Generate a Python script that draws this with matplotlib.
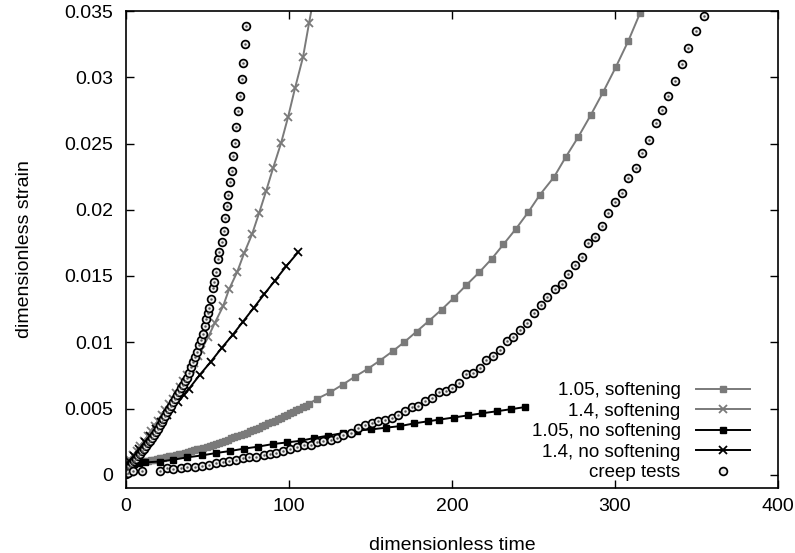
import matplotlib
matplotlib.use("Agg")
import matplotlib.pyplot as plt

# ---------------------------------------------------------------
# data (dimensionless time, dimensionless strain)

# 1.05, softening
soft105_t = [0, 1.9, 3.8, 5.7, 7.6, 9.5, 11.4, 13.3, 15.2, 17.1, 19.0, 20.9, 22.8, 24.7, 26.6, 28.5,
             30.4, 32.3, 34.2, 36.1, 38.0, 39.9, 41.8, 43.7, 45.6, 47.5, 49.4, 51.3, 53.2, 55.1, 57.0,
             58.9, 60.8, 62.7, 64.6, 66.5, 68.4, 70.3, 72.2, 74.1, 76.0, 77.9, 79.8, 81.7, 83.6, 85.5,
             87.4, 89.3, 91.2, 93.1, 95.0, 96.9, 98.8, 100.7, 102.6, 104.5, 106.4, 108.3, 110.2, 112.1,
             117.0, 125.2, 132.9, 140.5, 148.3, 155.8, 163.6, 170.6, 178.3, 186.1, 193.7, 201.2, 208.6,
             216.8, 224.4, 231.5, 239.3, 246.8, 254.0, 262.6, 269.8, 277.5, 285.1, 292.8, 300.4, 308.2, 315.3]
soft105_e = [0.00080, 0.00083, 0.00086, 0.00090, 0.00093, 0.00097, 0.00101, 0.00105, 0.00109, 0.00114,
             0.00118, 0.00123, 0.00128, 0.00133, 0.00138, 0.00143, 0.00149, 0.00154, 0.00160, 0.00166,
             0.00172, 0.00178, 0.00185, 0.00191, 0.00198, 0.00205, 0.00212, 0.00219, 0.00227, 0.00234,
             0.00242, 0.00250, 0.00258, 0.00266, 0.00274, 0.00283, 0.00291, 0.00300, 0.00309, 0.00318,
             0.00328, 0.00337, 0.00347, 0.00356, 0.00366, 0.00376, 0.00387, 0.00397, 0.00408, 0.00418,
             0.00429, 0.00440, 0.00451, 0.00463, 0.00474, 0.00486, 0.00498, 0.00510, 0.00522, 0.00534,
             0.00572, 0.00622, 0.00680, 0.00741, 0.00799, 0.00862, 0.00932, 0.01000, 0.01081, 0.01164,
             0.01247, 0.01336, 0.01429, 0.01529, 0.01630, 0.01738, 0.01857, 0.01982, 0.02114, 0.02247,
             0.02398, 0.02550, 0.02714, 0.02890, 0.03074, 0.03275, 0.03482]

# 1.4, softening
soft14_t = [0, 2.2, 4.4, 6.6, 8.8, 11.0, 13.2, 15.4, 17.6, 19.8, 22.0, 24.2, 26.4, 28.6, 30.8, 33.0,
            35.2, 37.4, 39.6, 41.8, 44.0, 46.0, 50.3, 54.6, 59.5, 63.2, 68.1, 72.4, 77.3, 81.6, 85.9,
            90.2, 95.1, 99.4, 103.7, 108.6, 112.3, 116.5]
soft14_e = [0.00080, 0.00113, 0.00148, 0.00182, 0.00218, 0.00255, 0.00292, 0.00330, 0.00369, 0.00408,
            0.00449, 0.00490, 0.00532, 0.00574, 0.00618, 0.00662, 0.00707, 0.00753, 0.00800, 0.00847,
            0.00895, 0.00939, 0.01036, 0.01149, 0.01270, 0.01399, 0.01527, 0.01670, 0.01814, 0.01973,
            0.02139, 0.02313, 0.02502, 0.02698, 0.02918, 0.03152, 0.03409, 0.03690]

# 1.05, no softening
nosoft105_t = [0, 0.6, 1.5, 3.0, 5.0, 8.0, 11.7, 20.9, 28.8, 37.4, 46.6, 55.2, 63.8, 72.4, 81.0, 90.2,
               98.8, 107.4, 115.3, 124.1, 133.3, 141.5, 150.3, 159.3, 168.1, 176.9, 185.1, 192.2, 201.0,
               209.8, 218.6, 227.4, 236.2, 245.0]
nosoft105_e = [0.00040, 0.00060, 0.00070, 0.00076, 0.00080, 0.00085, 0.00093, 0.00100, 0.00113, 0.00131,
               0.00146, 0.00164, 0.00179, 0.00197, 0.00212, 0.00232, 0.00244, 0.00257, 0.00277, 0.00295,
               0.00315, 0.00333, 0.00342, 0.00355, 0.00367, 0.00388, 0.00403, 0.00416, 0.00432, 0.00448,
               0.00464, 0.00479, 0.00495, 0.00511]

# 1.4, no softening
nosoft14_t = [0, 2.0, 4.7, 8.1, 11.5, 14.9, 18.3, 21.7, 25.1, 28.5, 31.9, 35.3, 38.7, 45.4, 52.1, 58.9,
              65.6, 71.8, 78.5, 84.7, 91.4, 98.2, 105.5]
nosoft14_e = [0.00075, 0.00105, 0.00142, 0.00193, 0.00244, 0.00295, 0.00346, 0.00397, 0.00448, 0.00499,
              0.00550, 0.00600, 0.00650, 0.00756, 0.00854, 0.00960, 0.01058, 0.01156, 0.01262, 0.01361,
              0.01466, 0.01572, 0.01678]

# creep tests (two specimens)
creep_a_t = [0.2, 1.4, 2.6, 3.8, 5.0, 6.2, 7.4, 8.6, 9.8, 11.0, 12.2, 13.4, 14.6, 15.8, 17.0, 18.2, 19.4,
             20.6, 21.8, 23.0, 24.2, 25.4, 26.6, 27.8, 29.0, 30.2, 31.4, 32.6, 33.8, 35.0, 36.2, 37.4,
             38.7, 39.9, 41.1, 42.3, 43.6, 44.8, 46.0, 47.2, 48.5, 49.1, 50.3, 50.9, 52.1, 53.4, 54.0,
             55.2, 56.4, 57.1, 58.9, 60.1, 60.7, 62.0, 62.6, 63.8, 65.0, 65.6, 66.9, 67.5, 68.7, 69.9,
             71.2, 71.8, 73.0, 73.6]
creep_a_e = [0.00036, 0.00052, 0.00068, 0.00085, 0.00102, 0.00120, 0.00138, 0.00157, 0.00176, 0.00196,
             0.00216, 0.00237, 0.00258, 0.00280, 0.00302, 0.00325, 0.00348, 0.00372, 0.00396, 0.00420,
             0.00445, 0.00470, 0.00496, 0.00522, 0.00548, 0.00574, 0.00600, 0.00626, 0.00652, 0.00678,
             0.00705, 0.00733, 0.00771, 0.00816, 0.00854, 0.00892, 0.00930, 0.00983, 0.01020, 0.01066,
             0.01119, 0.01172, 0.01224, 0.01262, 0.01330, 0.01406, 0.01451, 0.01527, 0.01625, 0.01678,
             0.01754, 0.01837, 0.01935, 0.02026, 0.02109, 0.02207, 0.02290, 0.02404, 0.02502, 0.02623,
             0.02744, 0.02857, 0.02986, 0.03107, 0.03250, 0.03386]

creep_b_t = [0.0, 1.5, 4.3, 9.6, 20.9, 25.2, 28.8, 33.7, 37.4, 42.3, 46.6, 50.9, 55.2, 59.5, 63.2, 67.5,
             71.8, 75.5, 79.8, 84.7, 88.3, 92.0, 96.3, 100.6, 104.7, 109.2, 113.3, 117.0, 121.0, 125.6,
             129.3, 133.3, 137.9, 142.1, 146.4, 150.7, 154.8, 158.9, 163.0, 167.1, 171.2, 175.3, 179.3,
             183.4, 187.7, 192.0, 196.3, 200.0, 204.3, 208.6, 212.9, 217.2, 220.9, 225.2, 229.4, 233.7,
             237.4, 241.7, 246.0, 250.3, 254.6, 258.3, 263.2, 267.5, 271.2, 275.5, 279.8, 283.4, 287.7,
             292.0, 295.7, 300.3, 304.3, 308.0, 312.9, 316.6, 320.9, 325.2, 328.8, 332.5, 336.8, 341.1,
             344.8, 349.7, 354.6]
creep_b_e = [0.00005, 0.00015, 0.00030, 0.00025, 0.00030, 0.00053, 0.00045, 0.00053, 0.00060, 0.00060,
             0.00068, 0.00076, 0.00087, 0.00094, 0.00102, 0.00110, 0.00125, 0.00132, 0.00136, 0.00151,
             0.00159, 0.00166, 0.00178, 0.00191, 0.00210, 0.00226, 0.00224, 0.00244, 0.00252, 0.00262,
             0.00277, 0.00302, 0.00315, 0.00350, 0.00372, 0.00391, 0.00403, 0.00413, 0.00429, 0.00451,
             0.00484, 0.00514, 0.00522, 0.00555, 0.00582, 0.00627, 0.00635, 0.00658, 0.00696, 0.00764,
             0.00771, 0.00809, 0.00869, 0.00900, 0.00945, 0.01013, 0.01036, 0.01096, 0.01149, 0.01217,
             0.01278, 0.01338, 0.01399, 0.01436, 0.01512, 0.01580, 0.01641, 0.01746, 0.01791, 0.01875,
             0.01973, 0.02060, 0.02124, 0.02237, 0.02313, 0.02426, 0.02524, 0.02653, 0.02751, 0.02857,
             0.02971, 0.03099, 0.03220, 0.03348, 0.03462]

x_ticks = [0, 100, 200, 300, 400]
y_ticks = [0, 0.005, 0.01, 0.015, 0.02, 0.025, 0.03, 0.035]
y_tick_labels = ["0", "0.005", "0.01", "0.015", "0.02", "0.025", "0.03", "0.035"]

# ---------------------------------------------------------------
# plot

plt.rcParams["font.family"] = ["Liberation Sans", "DejaVu Sans"]
plt.rcParams["font.size"] = 14

gray = "#7a7a7a"

fig = plt.figure(figsize=(7.95, 5.53), dpi=100)
ax = fig.add_axes([126 / 795, 1 - 488 / 553, 652 / 795, 477 / 553])

ax.plot(soft105_t, soft105_e, color=gray, lw=1.4, marker="s", ms=4.3, mec=gray, mfc=gray,
        label="1.05, softening")
ax.plot(soft14_t, soft14_e, color=gray, lw=1.4, marker="x", ms=5.5, mew=1.3,
        label="1.4, softening")
ax.plot(nosoft105_t, nosoft105_e, color="black", lw=1.4, marker="s", ms=4.3,
        label="1.05, no softening")
ax.plot(nosoft14_t, nosoft14_e, color="black", lw=1.4, marker="x", ms=5.5, mew=1.3,
        label="1.4, no softening")

circle = dict(ls="none", marker="o", ms=5.6, mfc="#eeeeee", mec="black", mew=1.25)
ax.plot(creep_a_t, creep_a_e, label="creep tests", **circle)
ax.plot(creep_b_t, creep_b_e, **circle)
# little dot in the middle of each circle
ax.plot(creep_a_t, creep_a_e, ls="none", marker=".", ms=1.5, color="#555555")
ax.plot(creep_b_t, creep_b_e, ls="none", marker=".", ms=1.5, color="#555555")

ax.set_xlim(0, 400)
ax.set_ylim(-0.001, 0.035)
ax.set_xticks(x_ticks)
ax.set_yticks(y_ticks)
ax.set_yticklabels(y_tick_labels)
ax.tick_params(direction="in", top=True, right=True, length=6, width=1)
ax.tick_params(axis="y", pad=9)
ax.tick_params(axis="x", pad=7)
for s in ax.spines.values():
    s.set_linewidth(1.2)

ax.set_xlabel("dimensionless time", labelpad=16)
ax.set_ylabel("dimensionless strain", labelpad=23)

leg = ax.legend(loc="lower right", bbox_to_anchor=(0.957, 0.014), frameon=False, markerfirst=False,
                fontsize=13.5, handlelength=2.9, handletextpad=0.8, labelspacing=0.18,
                borderaxespad=0, borderpad=0)

fig.savefig("out.png", dpi=100)
